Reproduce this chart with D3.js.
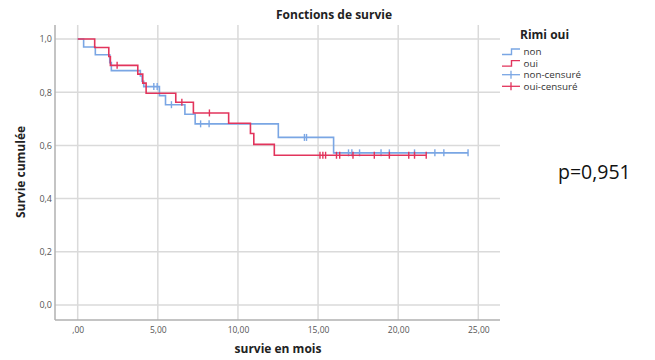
<!DOCTYPE html>
<html>
<head>
<meta charset="utf-8">
<script src="https://cdn.jsdelivr.net/npm/d3@7"></script>
<style>
  html, body { margin: 0; padding: 0; background: #ffffff; }
  svg { display: block; }
  text { font-family: "Open Sans", "DejaVu Sans", sans-serif; }
</style>
</head>
<body>
<svg id="chart" width="655" height="360"></svg>
<script>
// Kaplan-Meier estimates, time in months
const nonTimes  = [0.37, 1.10, 2.00, 2.10, 3.91, 4.02, 4.12, 5.10, 5.48, 6.69, 7.33, 12.52, 15.97];
const nonSurv   = [0.970, 0.941, 0.911, 0.881, 0.861, 0.841, 0.821, 0.787, 0.753, 0.717, 0.681, 0.630, 0.572];
const nonCensor = [4.75, 4.96, 5.85, 7.67, 8.20, 14.15, 14.28, 16.90, 17.11, 17.59, 18.93, 19.45, 21.02, 22.29, 22.85, 24.36];

const ouiTimes  = [1.06, 1.94, 2.04, 3.75, 4.06, 4.27, 6.12, 7.22, 9.42, 10.78, 10.99, 12.27];
const ouiSurv   = [0.968, 0.934, 0.901, 0.868, 0.834, 0.796, 0.762, 0.722, 0.683, 0.645, 0.604, 0.563];
const ouiCensor = [2.46, 6.50, 8.22, 15.12, 15.30, 15.47, 16.15, 16.35, 17.18, 18.51, 19.45, 20.66, 21.02, 21.75];

const groupNames  = ["non", "oui"];
const legendNames = ["non", "oui", "non-censuré", "oui-censuré"];
const xTicks = [0, 5, 10, 15, 20, 25];
const yTicks = [0, 0.2, 0.4, 0.6, 0.8, 1.0];

const colNon = "#7aa6e4";
const colOui = "#e2345c";

const svg = d3.select("#chart");

const x = d3.scaleLinear().domain([0, 25]).range([77.7, 478.3]);
const y = d3.scaleLinear().domain([0, 1]).range([305, 39]);

const plotLeft = 55, plotRight = 500, plotTop = 25, plotBottom = 320;

// grid
const grid = svg.append("g");
grid.selectAll("line.v").data(xTicks).join("line")
  .attr("x1", d => x(d)).attr("x2", d => x(d))
  .attr("y1", plotTop).attr("y2", plotBottom)
  .attr("stroke", "#dadada").attr("stroke-width", 1.5);
grid.selectAll("line.h").data(yTicks).join("line")
  .attr("x1", plotLeft).attr("x2", plotRight)
  .attr("y1", d => y(d)).attr("y2", d => y(d))
  .attr("stroke", "#dadada").attr("stroke-width", 1.5);

// axis lines
svg.append("line").attr("x1", plotLeft).attr("x2", plotLeft)
  .attr("y1", plotTop).attr("y2", plotBottom)
  .attr("stroke", "#b0b0b0").attr("stroke-width", 1.5);
svg.append("line").attr("x1", plotLeft).attr("x2", plotRight)
  .attr("y1", plotBottom).attr("y2", plotBottom)
  .attr("stroke", "#b0b0b0").attr("stroke-width", 1.5);

// tick labels
const fmtX = d => d3.format(".2f")(d).replace(".", ",").replace(/^0,/, ",");
const fmtY = d => d3.format(".1f")(d).replace(".", ",");

const xAxis = svg.append("g")
  .attr("transform", `translate(0,${plotBottom})`)
  .call(d3.axisBottom(x).tickValues(xTicks).tickFormat(fmtX).tickSize(0).tickPadding(7));
xAxis.select(".domain").remove();
xAxis.selectAll("text").attr("font-size", "8.5px").attr("fill", "#555")
  .attr("font-family", "'Open Sans', sans-serif");

const yAxis = svg.append("g")
  .attr("transform", `translate(${plotLeft},0)`)
  .call(d3.axisLeft(y).tickValues(yTicks).tickFormat(fmtY).tickSize(0).tickPadding(3));
yAxis.select(".domain").remove();
yAxis.selectAll("text").attr("font-size", "9px").attr("fill", "#555")
  .attr("font-family", "'Open Sans', sans-serif");

// survival curves
function stepPoints(times, surv, censor) {
  const pts = [[0, 1]];
  times.forEach((t, i) => pts.push([t, surv[i]]));
  const end = Math.max(times[times.length - 1], d3.max(censor));
  pts.push([end, surv[surv.length - 1]]);
  return pts;
}
function survAt(times, surv, t) {
  let s = 1;
  times.forEach((tt, i) => { if (tt <= t) s = surv[i]; });
  return s;
}

const line = d3.line().x(d => x(d[0])).y(d => y(d[1])).curve(d3.curveStepAfter);

const groups = [
  { name: groupNames[0], times: nonTimes, surv: nonSurv, censor: nonCensor, color: colNon },
  { name: groupNames[1], times: ouiTimes, surv: ouiSurv, censor: ouiCensor, color: colOui }
];

groups.forEach(g => {
  svg.append("path")
    .datum(stepPoints(g.times, g.surv, g.censor))
    .attr("d", line)
    .attr("fill", "none")
    .attr("stroke", g.color)
    .attr("stroke-width", 1.6);
  svg.append("g").selectAll("line").data(g.censor).join("line")
    .attr("x1", d => x(d)).attr("x2", d => x(d))
    .attr("y1", d => y(survAt(g.times, g.surv, d)) - 3.5)
    .attr("y2", d => y(survAt(g.times, g.surv, d)) + 3.5)
    .attr("stroke", g.color).attr("stroke-width", 1.4);
});

// titles
svg.append("text").attr("x", 334).attr("y", 19).attr("text-anchor", "middle")
  .attr("font-size", "12px").attr("font-weight", "bold").attr("fill", "#222")
  .text("Fonctions de survie");

svg.append("text").attr("x", 278).attr("y", 353).attr("text-anchor", "middle")
  .attr("font-size", "12px").attr("font-weight", "bold").attr("fill", "#222")
  .text("survie en mois");

svg.append("text")
  .attr("transform", "translate(25,172) rotate(-90)")
  .attr("text-anchor", "middle")
  .attr("font-size", "12px").attr("font-weight", "bold").attr("fill", "#222")
  .text("Survie cumulée");

// legend
const lg = svg.append("g");
lg.append("text").attr("x", 520).attr("y", 38.5)
  .attr("font-size", "12px").attr("font-weight", "bold").attr("fill", "#222")
  .text("Rimi oui");

const legendColors = [colNon, colOui, colNon, colOui];
legendNames.forEach((name, i) => {
  const cy = 51.5 + i * 11.6;
  const c = legendColors[i];
  if (i < 2) {
    lg.append("path")
      .attr("d", `M502,${cy + 3}H511.5V${cy - 2.5}H520`)
      .attr("fill", "none").attr("stroke", c).attr("stroke-width", 1.4);
  } else {
    lg.append("line").attr("x1", 502).attr("x2", 520).attr("y1", cy).attr("y2", cy)
      .attr("stroke", c).attr("stroke-width", 1.3);
    lg.append("line").attr("x1", 511).attr("x2", 511).attr("y1", cy - 4).attr("y2", cy + 4)
      .attr("stroke", c).attr("stroke-width", 1.3);
  }
  lg.append("text").attr("x", 523.5).attr("y", cy + 3.5)
    .attr("font-family", "'DejaVu Sans', sans-serif")
    .attr("font-size", "9.8px").attr("fill", "#333")
    .text(name);
});

// log-rank p-value
svg.append("text").attr("x", 558).attr("y", 178.5)
  .attr("font-family", "'Liberation Sans', Arial, sans-serif")
  .attr("font-size", "19.5px").attr("fill", "#111")
  .text("p=0,951");
</script>
</body>
</html>
